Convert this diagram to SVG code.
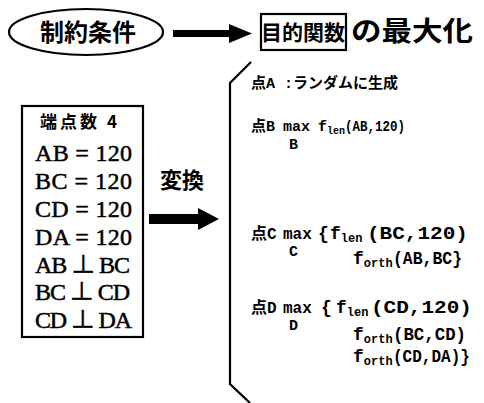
<svg xmlns="http://www.w3.org/2000/svg" width="484" height="403" viewBox="0 0 484 403">
<style>
.jp{font-family:"Noto Sans CJK JP",sans-serif;font-weight:bold;fill:#000}
.tm{font-family:"Liberation Serif","Noto Sans CJK JP",serif;fill:#000;stroke:#000;stroke-width:0.5}
.mono{font-family:"Liberation Mono","Noto Sans CJK JP",monospace;font-weight:bold;font-size:15px;fill:#000}
.m16{font-size:16px}
.big{font-size:18px}
.sub{font-size:12px}
.ln{fill:none;stroke:#000;stroke-width:2.2}
</style>
<rect width="484" height="403" fill="#fff"/>
<g id="constraints">
<ellipse cx="86" cy="32" rx="77" ry="23" class="ln"/>
<text x="88" y="41" class="jp" font-size="24" text-anchor="middle">制約条件</text>
</g>
<g id="objective">
<rect x="261" y="14" width="85" height="36" class="ln"/>
<text x="303" y="40" class="jp" font-size="21" text-anchor="middle">目的関数</text>
</g>
<g id="maximize">
<text x="351" y="41" class="jp" font-size="27" textLength="122" lengthAdjust="spacingAndGlyphs">の最大化</text>
</g>
<g id="condition-box">
<rect x="22" y="106" width="121" height="231" class="ln"/>
<text x="40" y="128" class="jp" font-size="17" textLength="77">端点数 4</text>
<text x="35" y="161" class="tm" font-size="24" textLength="97">AB = 120</text>
<text x="35" y="189" class="tm" font-size="24" textLength="97">BC = 120</text>
<text x="35" y="217" class="tm" font-size="24" textLength="97">CD = 120</text>
<text x="35" y="245" class="tm" font-size="24" textLength="97">DA = 120</text>
<text x="35" y="273" class="tm" font-size="24" textLength="95">AB ⊥ BC</text>
<text x="35" y="300" class="tm" font-size="24" textLength="95">BC ⊥ CD</text>
<text x="35" y="328" class="tm" font-size="24" textLength="97">CD ⊥ DA</text>
</g>
<g id="transform-label">
<text x="160" y="188" class="jp" font-size="22">変換</text>
</g>
<g id="formulas">
<polyline points="251,62 230,83 230,384 250,403" class="ln"/>
<text x="251" y="88" class="mono">点A :ランダムに生成</text>
<text x="251" y="131" class="mono">点B<tspan x="283">max</tspan><tspan x="318">f</tspan><tspan font-size="10" dy="3">len</tspan><tspan x="345" dy="-3" textLength="60" lengthAdjust="spacingAndGlyphs">(AB,120)</tspan></text>
<text x="289" y="149" class="mono" font-size="12">B</text>
<text x="251" y="239" class="mono m16">点C<tspan x="283">max</tspan><tspan x="318" class="big">{</tspan><tspan x="330" class="big">f</tspan><tspan class="sub" dy="3">len</tspan><tspan x="367" dy="-3" class="big" textLength="101" lengthAdjust="spacingAndGlyphs">(BC,120)</tspan></text>
<text x="289" y="256" class="mono" font-size="12">C</text>
<text x="353" y="264" class="mono big">f<tspan class="sub" dy="3">orth</tspan><tspan x="393" dy="-3" textLength="69" lengthAdjust="spacingAndGlyphs">(AB,BC}</tspan></text>
<text x="251" y="313" class="mono m16">点D<tspan x="283">max</tspan><tspan x="321" class="big">{</tspan><tspan x="336" class="big">f</tspan><tspan class="sub" dy="3">len</tspan><tspan x="371" dy="-3" class="big" textLength="101" lengthAdjust="spacingAndGlyphs">(CD,120)</tspan></text>
<text x="289" y="330" class="mono" font-size="12">D</text>
<text x="353" y="340" class="mono big">f<tspan class="sub" dy="3">orth</tspan><tspan x="393" dy="-3" textLength="73" lengthAdjust="spacingAndGlyphs">(BC,CD)</tspan></text>
<text x="353" y="362" class="mono big">f<tspan class="sub" dy="3">orth</tspan><tspan x="393" dy="-3" textLength="77" lengthAdjust="spacingAndGlyphs">(CD,DA)}</tspan></text>
</g>
<g id="connectors">
<polygon points="173,30 229,30 229,24 252,33.5 229,43 229,37 173,37" fill="#000"/>
<polygon points="149,214 198,214 198,208 219,219 198,230 198,224 149,224" fill="#000"/>
</g>
</svg>
